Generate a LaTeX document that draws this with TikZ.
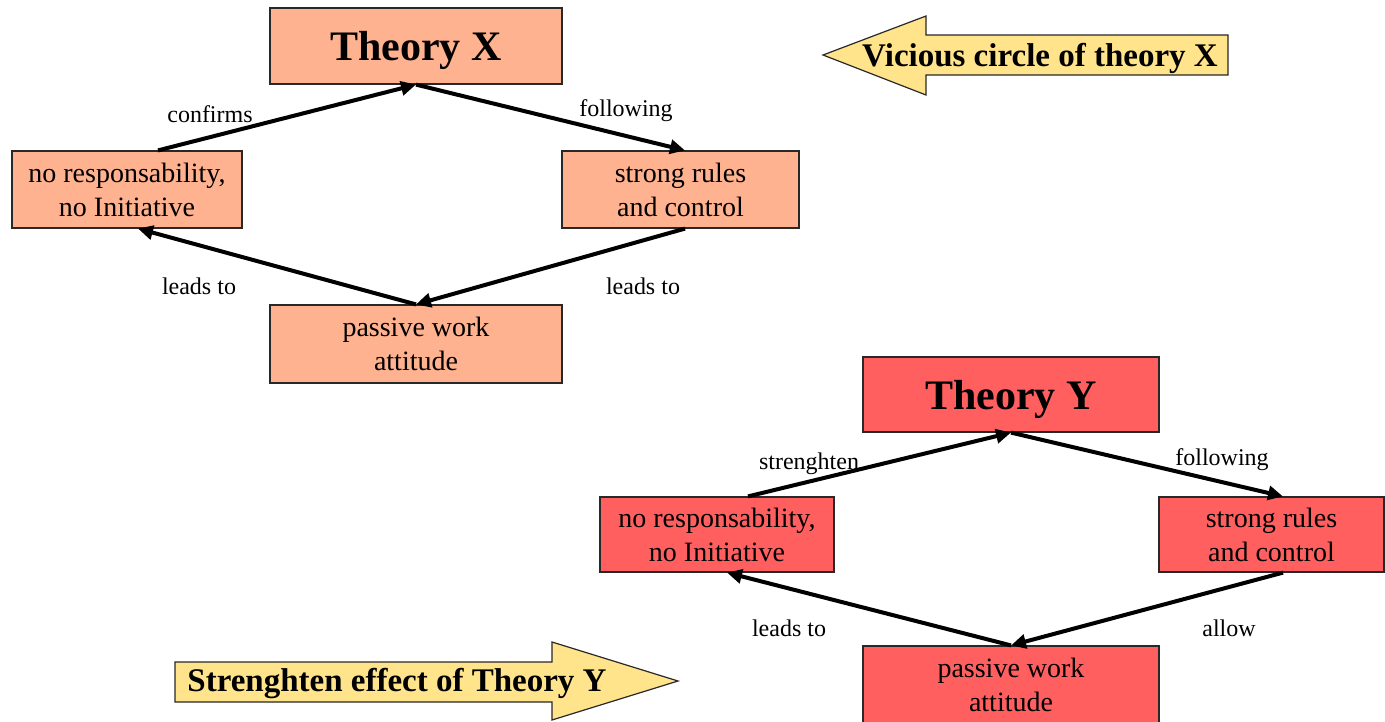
\documentclass[tikz,border=0pt]{standalone}
\usepackage{fontspec}
\setmainfont{Liberation Serif}
\usetikzlibrary{arrows.meta}

\definecolor{xfill}{RGB}{255,178,143}
\definecolor{yfill}{RGB}{255,95,95}
\definecolor{banner}{RGB}{255,228,140}
\definecolor{edge}{RGB}{40,40,40}

\tikzset{
  box/.style={draw=edge, line width=1.2pt, rectangle, align=center, inner sep=0pt,
              font=\fontsize{28}{34}\selectfont},
  % a taller strut on the first line sets the two lines a little lower in the box
  boxtext/.style={box, execute at begin node={\rule{0pt}{30pt}}},
  title/.style={box, text depth=0pt, font=\fontsize{42}{48}\selectfont\bfseries},
  flow/.style={line width=4pt, -{Triangle[length=15pt,width=14pt]}},
  lbl/.style={inner sep=0pt, text depth=0pt, font=\fontsize{24}{28}\selectfont},
  bannerbox/.style={draw=edge, line width=1.2pt, fill=banner, line join=miter},
  bannertext/.style={inner sep=0pt, text depth=0pt, font=\fontsize{33}{38}\selectfont\bfseries}
}

\begin{document}
\begin{tikzpicture}[x=1pt,y=-1pt]
\useasboundingbox (0,0) rectangle (1385,721);

% ---- Theory X cycle ----
\node[title, fill=xfill, minimum width=292pt, minimum height=76pt] (tx) at (416,46) {Theory X};
\node[boxtext, fill=xfill, minimum width=230pt, minimum height=77pt] (xl) at (127,189.5) {no responsability,\\ no Initiative};
\node[boxtext, fill=xfill, minimum width=237pt, minimum height=77pt] (xr) at (680.5,189.5) {strong rules\\ and control};
\node[boxtext, fill=xfill, minimum width=292pt, minimum height=78pt] (xb) at (416,344) {passive work\\ attitude};

\draw[flow] ([xshift=31pt]xl.north) -- (tx.south);
\draw[flow] (tx.south) -- ([xshift=4.5pt]xr.north);
\draw[flow] ([xshift=4.5pt]xr.south) -- (xb.north);
\draw[flow] (xb.north) -- ([xshift=11pt]xl.south);

\node[lbl] (xl1) at (210,114) {confirms};
\node[lbl] (xl2) at (626,108) {following};
\node[lbl] (xl3) at (199,286) {leads to};
\node[lbl] (xl4) at (643,286) {leads to};

% ---- Theory Y cycle ----
\node[title, fill=yfill, minimum width=296pt, minimum height=75pt] (ty) at (1011,394.5) {Theory Y};
\node[boxtext, fill=yfill, minimum width=234pt, minimum height=75pt] (yl) at (717,534.5) {no responsability,\\ no Initiative};
\node[boxtext, fill=yfill, minimum width=225pt, minimum height=75pt] (yr) at (1271.5,534.5) {strong rules\\ and control};
\node[boxtext, fill=yfill, minimum width=296pt, minimum height=78pt] (yb) at (1011,685) {passive work\\ attitude};

\draw[flow] ([xshift=31pt]yl.north) -- (ty.south);
\draw[flow] (ty.south) -- ([xshift=11.5pt]yr.north);
\draw[flow] ([xshift=11.5pt]yr.south) -- (yb.north);
\draw[flow] (yb.north) -- ([xshift=10pt]yl.south);

\node[lbl] (yl1) at (809,461) {strenghten};
\node[lbl] (yl2) at (1222,457) {following};
\node[lbl] (yl3) at (789,628) {leads to};
\node[lbl] (yl4) at (1229,628) {allow};

% ---- banner arrows ----
\draw[bannerbox] (823,55) -- (926,16) -- (926,35) -- (1228,35) -- (1228,75) -- (926,75) -- (926,95) -- cycle;
\node[bannertext] (vc) at (1040,55) {Vicious circle of theory X};

\draw[bannerbox] (175,662) -- (552,662) -- (552,642) -- (678,681) -- (552,720) -- (552,702) -- (175,702) -- cycle;
\node[bannertext] (se) at (397,680) {Strenghten effect of Theory Y};
\end{tikzpicture}
\end{document}
